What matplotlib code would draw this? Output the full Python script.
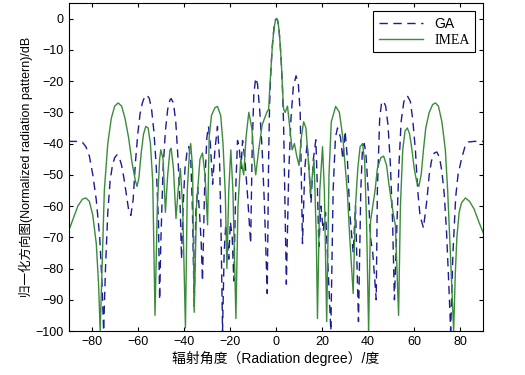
import matplotlib
matplotlib.use('Agg')
import matplotlib.pyplot as plt

plt.rcParams['font.family'] = ['Liberation Sans', 'Noto Sans CJK SC']

# GA 方向图 (角度/度, 电平/dB)
ga_deg = [-90, -86, -84, -82.5, -81, -79.5, -78, -76.5, -75.5, -74.8, -74, -73, -72, -71, -70,
          -69, -68, -67, -66, -65, -64, -63, -62, -61, -60, -59, -58, -57, -56, -55, -54, -53,
          -52, -51, -50.5, -50, -49, -48, -47, -46, -45.5, -44.5, -43.5, -42.5, -41.5, -41,
          -40.3, -39.5, -38.5, -37.8, -37, -36.3, -35.5, -34.8, -34, -33.2, -32.5, -31.9, -31,
          -30, -29.3, -28.5, -27.5, -26.5, -25.4, -24.5, -23.8, -23.2, -22.5, -21.8, -21, -20.5,
          -19.8, -19, -18.3, -17.5, -16.7, -16, -15.2, -14.5, -13.5, -12.4, -11, -10.3, -9.6,
          -8.8, -8, -7, -6, -5, -4.5, -3.8, -3.2, -2.8, -2.3, -1.8, -1.3, -0.8, -0.3, 0.3, 0.8,
          1.3, 1.8, 2.3, 2.8, 3.3, 3.8, 4.5, 5.5, 6.5, 7.5, 8.7, 9.7, 10.5, 11.5, 12.5, 13.5,
          14.5, 15.2, 16.2, 17.3, 18, 18.6, 19.5, 20.5, 21.5, 22.5, 23.8, 24.8, 25.8, 26.7, 28,
          29, 30, 31, 32, 33.5, 34.5, 35.8, 36.8, 37.5, 38.3, 39, 40, 41, 42, 43.5, 44, 45, 45.8,
          46.6, 47.6, 48.6, 49.6, 50.6, 51.4, 52.3, 53.3, 54.3, 55.5, 57, 58.3, 59.3, 60.5, 61.5,
          62.5, 64, 65.5, 66.5, 67.5, 68.7, 69.8, 71, 72, 73, 74, 75, 75.8, 76.8, 78, 79, 80.5,
          82, 83.5, 86, 90]
ga_db = [-39.3, -39.3, -39.6, -41, -44, -50, -58, -70, -85, -100, -80, -62, -52, -47, -44.5,
         -43.6, -44.5, -47, -51, -56, -61, -63, -58, -46, -37, -30.5, -27, -25, -24.5, -25.5, -29,
         -36, -47, -65, -90, -72, -48, -36, -29, -26, -25.6, -27, -33, -45, -62, -77,
         -60, -48, -42, -41, -45, -60, -92, -62, -54, -62, -71, -84, -55,
         -38, -34.5, -40, -53, -42, -34.5, -45, -70, -100, -75, -66, -72, -77,
         -65, -70, -84, -55, -39, -41, -48, -39, -45, -56, -72, -40, -24,
         -19, -21, -30, -42, -60, -72, -88, -45, -28, -18, -11, -6, -2.5, -0.4, 0, -0.8,
         -3.5, -8, -14, -22, -34, -55, -85, -50, -32, -22, -18.3, -21, -30, -72, -48, -40,
         -50, -59, -45, -38.8, -55, -73, -60, -68, -62, -78, -100, -55, -38, -35, -38,
         -45, -36, -45, -62, -75, -60, -97, -55, -42, -40, -43, -55, -70, -75, -90, -55, -32, -27,
         -26.4, -28, -34, -46, -65, -90, -70, -48, -33, -26.5, -24.7, -26.5, -32, -42, -55,
         -63, -67, -58, -50, -45.5, -43, -42.7, -44.5, -49, -56, -68, -85, -100, -75, -57, -50, -45,
         -41, -39.5, -39.3, -39.3]

# IMEA 方向图
imea_deg = [-90, -88, -86, -84, -82.5, -81, -79.5, -78, -77, -76.3, -75.5, -74.5, -73, -71.5,
            -70, -68.5, -67, -65.5, -64, -62.5, -61, -60.3, -59.5, -58.5, -57.5, -56.5, -55.5,
            -54.5, -53.5, -52.5, -51.5, -50.5, -50, -49, -48, -47, -46, -45.5, -44.5, -43.4,
            -42.5, -41.5, -40.5, -39.3, -38.5, -37.5, -37, -36.2, -35.5, -34.5, -33, -31.9,
            -30.8, -29.7, -29, -28, -26.5, -25.4, -24, -23, -22, -21.3, -20.5, -19.6, -18.7,
            -17.4, -16.5, -15.3, -14, -13, -11.8, -10.5, -9.5, -8.8, -7.5, -6, -5, -4, -3.2,
            -2.6, -2.1, -1.6, -1.1, -0.6, -0.1, 0.3, 0.8, 1.3, 1.8, 2.3, 2.8, 3.3, 4, 5, 6, 7, 8,
            9, 10, 11, 12, 13, 14, 15, 16.5, 17.5, 18, 19, 20.2, 21, 22, 23, 24, 25.9, 27.5, 29,
            30, 31, 32, 33.5, 34.5, 35.5, 36.5, 37.6, 38.5, 39.3, 40.2, 41, 42, 43, 44, 45.5,
            46.7, 48, 49, 50, 51, 51.8, 52.5, 53.2, 54, 55, 56, 57, 58, 59, 60, 61, 62, 63, 64,
            65, 66.5, 68, 69.2, 70.5, 72, 73.5, 74.5, 75.5, 76.5, 77.1, 77.8, 78.5, 79.5, 80.5,
            82.2, 84, 86, 88, 90]
imea_db = [-68, -64, -60, -57.8, -57.4, -58.5, -63, -72, -85, -100, -80, -55, -40, -32,
           -28, -27, -28, -32, -38, -46, -52, -53.7, -51, -43, -37, -34.5, -35,
           -40, -52, -95, -60, -45, -42, -45, -62, -50, -42, -41.5, -48, -64,
           -55, -48, -60, -99, -55, -42, -40, -48, -94, -60, -45, -43,
           -50, -66, -38, -31, -28.5, -28.1, -31, -40, -56, -80, -55, -42, -55,
           -96, -60, -45, -50, -38, -30, -35, -45, -50, -42, -34, -32, -30, -29,
           -21, -15, -9, -5, -2, -0.3, 0, -0.8, -3.5, -8, -14, -22, -29, -30, -28, -35, -42, -40,
           -44, -47, -38, -33, -35, -45, -56, -45, -70, -96, -55, -41, -55, -97, -50, -33, -28.1, -30, -38,
           -47, -56, -70, -88, -60, -48, -41, -40, -46, -65, -100, -65, -60, -55, -48, -44.5,
           -44, -47, -53, -58, -63, -66, -80, -95, -60, -42, -36, -35, -37, -42, -48, -52, -53.7, -50, -42,
           -35, -30, -27.5, -27, -28, -33, -42, -55, -72, -90, -100, -82, -70, -62, -59,
           -57.4, -58.5, -61, -65, -68.7]

xticks = list(range(-80, 81, 20))
yticks = list(range(-100, 1, 10))

fig = plt.figure(figsize=(5.25, 3.75), dpi=100)
ax = fig.add_axes([0.1307, 0.1173, 0.79, 0.8747])

ax.plot(ga_deg, ga_db, color='#1c1c96', lw=1.0, ls=(0, (6, 4)), label='GA')
ax.plot(imea_deg, imea_db, color='#3a8c3a', lw=1.0, label='IMEA')

ax.set_xlim(-90, 90)
ax.set_ylim(-100, 5)
ax.set_xticks(xticks)
ax.set_yticks(yticks)
ax.tick_params(direction='in', top=True, right=True, labelsize=9, length=3)
ax.set_xlabel('辐射角度（Radiation degree）/度', fontsize=10, labelpad=2)
ax.set_ylabel('归一化方向图(Normalized radiation pattern)/dB', fontsize=9, labelpad=2)

leg = ax.legend(loc='upper right', fancybox=False, edgecolor='black', framealpha=1,
                fontsize=10, handlelength=3.2, borderaxespad=0.6, labelspacing=0.2)
leg.get_frame().set_linewidth(0.8)
leg.get_texts()[1].set_family('Liberation Serif')

fig.savefig('out.png', dpi=100)
